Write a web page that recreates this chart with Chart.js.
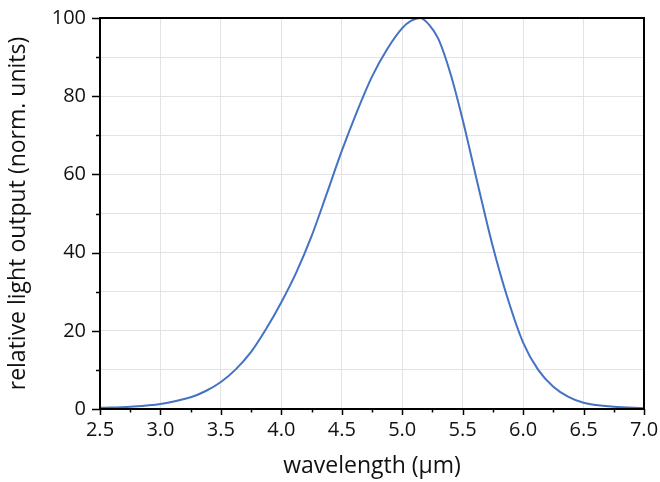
<!DOCTYPE html>
<html>
<head>
<meta charset="utf-8">
<script src="https://cdn.jsdelivr.net/npm/chart.js@4.4.1/dist/chart.umd.min.js"></script>
<style>
  html, body { margin: 0; padding: 0; background: #fff; }
  #wrap { width: 660px; height: 482px; }
</style>
</head>
<body>
<div id="wrap"><canvas id="spectrumChart" width="660" height="482"></canvas></div>
<script>
// emission spectrum
const wavelength = [2.5, 2.75, 3.0, 3.25, 3.375, 3.5, 3.625, 3.75, 3.875, 4.0, 4.125, 4.25, 4.375, 4.5, 4.625, 4.75, 4.875, 5.0, 5.075, 5.15, 5.225, 5.3, 5.4, 5.5, 5.625, 5.75, 5.875, 6.0, 6.125, 6.25, 6.375, 6.5, 6.75, 7.0];
const lightOutput = [0.3, 0.6, 1.3, 3.0, 4.6, 6.9, 10.2, 14.6, 20.5, 27.3, 35.0, 44.2, 55.0, 66.0, 76.0, 85.0, 92.0, 97.4, 99.3, 100.0, 98.2, 94.6, 85.7, 74.0, 57.5, 41.5, 28.0, 17.0, 10.0, 5.7, 3.1, 1.6, 0.6, 0.2];

const xTickLabels = ['2.5', '3.0', '3.5', '4.0', '4.5', '5.0', '5.5', '6.0', '6.5', '7.0'];
const yTickLabels = ['0', '20', '40', '60', '80', '100'];

const lineColor = '#4472C4';
const gridColor = '#E3E3E3';
const textColor = '#111';
const fontFamily = "'Open Sans', sans-serif";

// frame + outward tick marks (major and minor)
const framePlugin = {
    id: 'frame',
    afterDraw(chart) {
        const { ctx, chartArea: a, scales } = chart;
        ctx.save();
        ctx.strokeStyle = '#000';
        ctx.lineWidth = 1.5;
        ctx.beginPath();
        // x ticks every 0.25, major every 0.5
        for (let v = 2.5; v <= 7.0001; v += 0.25) {
            const px = Math.round(scales.x.getPixelForValue(v)) + 0.5;
            const major = Math.abs(v * 2 - Math.round(v * 2)) < 1e-6;
            ctx.moveTo(px, a.bottom);
            ctx.lineTo(px, a.bottom + (major ? 6 : 3.5));
        }
        // y ticks every 10, major every 20
        for (let v = 0; v <= 100; v += 10) {
            const py = Math.round(scales.y.getPixelForValue(v)) + 0.5;
            ctx.moveTo(a.left, py);
            ctx.lineTo(a.left - (v % 20 === 0 ? 8 : 4), py);
        }
        ctx.stroke();
        ctx.lineWidth = 2;
        ctx.strokeRect(a.left, a.top, a.right - a.left, a.bottom - a.top);
        ctx.restore();
    }
};

new Chart(document.getElementById('spectrumChart'), {
    type: 'line',
    data: {
        datasets: [{
            label: 'relative light output',
            data: wavelength.map((x, i) => ({ x: x, y: lightOutput[i] })),
            borderColor: lineColor,
            borderWidth: 2,
            pointRadius: 0,
            fill: false,
            cubicInterpolationMode: 'monotone'
        }]
    },
    options: {
        responsive: false,
        animation: false,
        layout: { padding: { top: 18, right: 16, bottom: 0, left: 0 } },
        plugins: {
            legend: { display: false },
            tooltip: { enabled: false }
        },
        scales: {
            x: {
                type: 'linear',
                min: 2.5,
                max: 7.0,
                afterFit(scale) {
                    scale.height = 73;
                    scale.paddingLeft = 0;
                    scale.paddingRight = 0;
                },
                ticks: {
                    stepSize: 0.5,
                    color: textColor,
                    padding: 9,
                    maxRotation: 0,
                    font: { family: fontFamily, size: 20 },
                    callback: (v) => xTickLabels.find(t => Math.abs(parseFloat(t) - v) < 1e-6) || ''
                },
                grid: { color: gridColor, drawTicks: false, lineWidth: 1 },
                border: { display: false },
                title: {
                    display: true,
                    text: 'wavelength (µm)',
                    color: textColor,
                    font: { family: fontFamily, size: 23 },
                    padding: { top: 2, bottom: 2 }
                }
            },
            y: {
                min: 0,
                max: 100,
                afterFit(scale) {
                    scale.width = 100;
                    scale.paddingTop = 0;
                    scale.paddingBottom = 0;
                },
                ticks: {
                    stepSize: 10,
                    color: textColor,
                    padding: 14,
                    font: { family: fontFamily, size: 20 },
                    callback: (v) => yTickLabels.includes(String(v)) ? String(v) : ''
                },
                grid: { color: gridColor, drawTicks: false, lineWidth: 1 },
                border: { display: false },
                title: {
                    display: true,
                    text: 'relative light output (norm. units)',
                    color: textColor,
                    font: { family: fontFamily, size: 23 },
                    padding: { top: 5, bottom: 5 }
                }
            }
        }
    },
    plugins: [framePlugin]
});
</script>
</body>
</html>
